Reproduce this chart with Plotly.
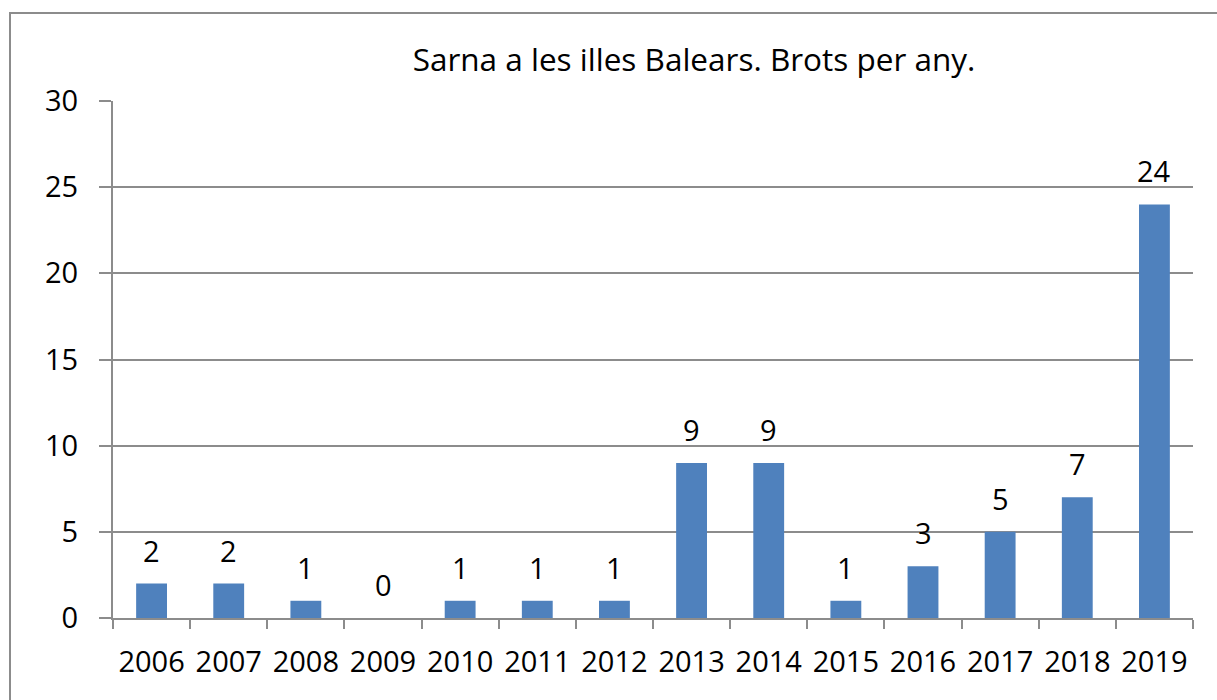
import plotly.graph_objects as go

years = ["2006", "2007", "2008", "2009", "2010", "2011", "2012",
         "2013", "2014", "2015", "2016", "2017", "2018", "2019"]
outbreaks = [2, 2, 1, 0, 1, 1, 1, 9, 9, 1, 3, 5, 7, 24]
title_text = "Sarna a les illes Balears. Brots per any."
y_ticks = [0, 5, 10, 15, 20, 25, 30]

FONT = "Open Sans"
GRID = "#8c8c8c"
FS = 29

fig = go.Figure()
fig.add_trace(go.Bar(
    x=years, y=outbreaks,
    marker=dict(color="#4F81BD", line=dict(width=0)),
    hoverinfo="x+y",
))

for i, v in enumerate(outbreaks):
    fig.add_annotation(x=i, y=v, text=str(v), showarrow=False,
                       yanchor="bottom", yshift=12,
                       font=dict(family=FONT, size=FS, color="#000000"))

L, R, T, B = 113, 24, 101, 82
W, H = 1217, 700
pw, ph = W - L - R, H - T - B

fig.add_shape(type="rect", xref="paper", yref="paper",
              x0=(10 - L) / pw, x1=(1240 - L) / pw,
              y0=-(730 - (H - B)) / ph, y1=((H - B) - 13) / ph,
              line=dict(color="#8c8c8c", width=2), fillcolor="rgba(0,0,0,0)",
              layer="below")

fig.update_layout(
    width=W, height=H,
    margin=dict(l=L, r=R, t=T, b=B, pad=0, autoexpand=False),
    paper_bgcolor="white", plot_bgcolor="white",
    bargap=0.6,
    showlegend=False,
    font=dict(family=FONT, size=FS, color="#000000"),
    title=dict(text=title_text, x=(694 - L) / pw, xref="paper", xanchor="center",
               y=1 - 60 / H, yanchor="middle",
               font=dict(family=FONT, size=31.5, color="#000000")),
)
fig.update_xaxes(
    type="category", range=[-0.5, len(years) - 0.5], automargin=False,
    showline=True, linecolor=GRID, linewidth=2,
    ticks="outside", tickson="boundaries", ticklen=9, tickwidth=2, tickcolor=GRID,
    ticklabelstandoff=17, tickangle=0,
    showgrid=False,
    tickfont=dict(family=FONT, size=FS, color="#000000"),
)
fig.update_yaxes(
    range=[0, 30], tickvals=y_ticks, automargin=False,
    showline=True, linecolor=GRID, linewidth=2,
    ticks="outside", ticklen=12, tickwidth=2, tickcolor=GRID,
    showgrid=True, gridcolor=GRID, gridwidth=2,
    zeroline=False,
    ticklabelstandoff=15,
    tickfont=dict(family=FONT, size=FS, color="#000000"),
)

fig.write_html("out.html", config={"displayModeBar": False},
               post_script="document.body.style.margin='0';document.body.style.overflow='hidden';")
